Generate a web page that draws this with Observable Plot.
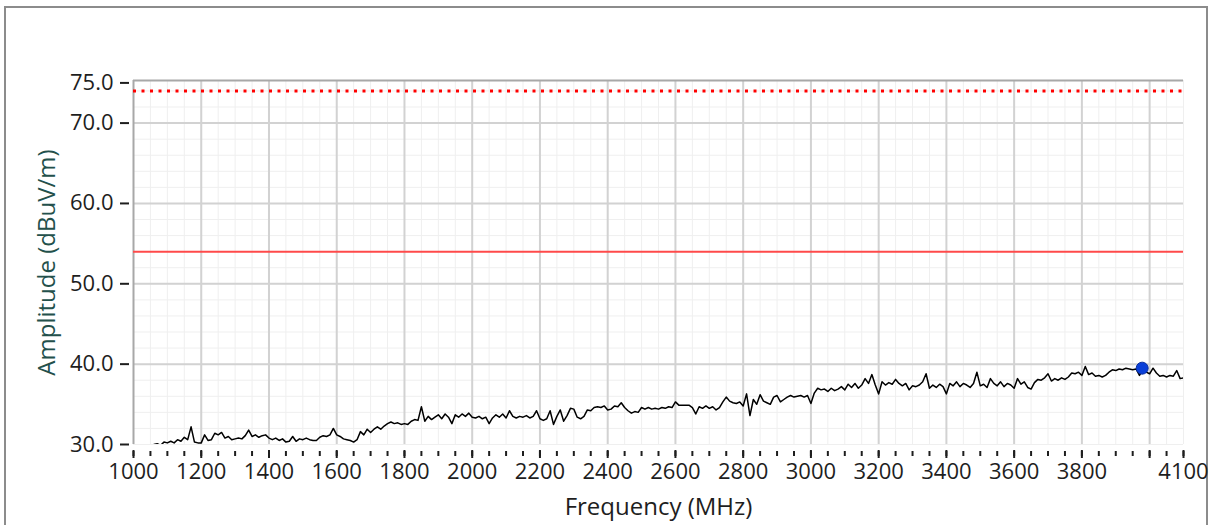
<!DOCTYPE html>
<html>
<head>
<meta charset="utf-8">
<script src="https://cdn.jsdelivr.net/npm/d3@7"></script>
<script src="https://cdn.jsdelivr.net/npm/@observablehq/plot@0.6"></script>
<style>
  html, body { margin: 0; padding: 0; background: #fff; }
  #wrap { position: relative; width: 1213px; height: 525px; overflow: hidden; }
  #panel { position: absolute; left: 4px; top: 6px; width: 1204px; height: 560px;
           border: 2px solid #8c8c8c; border-bottom: none; box-sizing: border-box; }
  #chart { position: absolute; left: 0; top: 0; }
</style>
</head>
<body>
<div id="wrap"><div id="panel"></div><div id="chart"></div></div>
<script>
// Radiated emission sweep, 10 MHz steps starting at 1050 MHz
const sweepStartMHz = 1050;
const sweepStepMHz = 10;
const amplitude = [
  29.7, 30.0, 30.1, 29.9, 30.3, 30.2, 30.4, 30.2, 30.6, 30.4,
  30.9, 30.6, 32.2, 30.3, 30.2, 30.2, 31.2, 30.5, 30.6, 31.4,
  31.2, 31.5, 30.8, 31.0, 30.6, 30.7, 30.8, 30.7, 31.1, 31.8,
  31.0, 31.2, 30.9, 31.1, 31.2, 30.8, 30.6, 30.8, 30.5, 30.7,
  30.3, 30.4, 31.0, 30.4, 30.7, 30.6, 30.8, 30.6, 30.5, 30.5,
  30.9, 31.1, 31.0, 31.2, 32.0, 31.2, 31.0, 30.7, 30.6, 30.5,
  30.3, 30.6, 31.6, 31.2, 31.9, 31.5, 31.9, 32.2, 31.9, 32.3,
  32.6, 32.8, 32.6, 32.7, 32.5, 32.6, 32.5, 32.9, 33.1, 33.0,
  34.7, 32.9, 33.5, 33.1, 33.4, 33.7, 33.2, 33.8, 33.4, 32.6,
  33.7, 33.4, 33.8, 33.5, 33.9, 33.4, 33.3, 33.5, 33.2, 33.4,
  32.6, 33.3, 33.7, 33.4, 33.8, 33.3, 34.2, 33.5, 33.3, 33.5,
  33.4, 33.6, 33.3, 33.5, 34.2, 33.2, 33.0, 33.2, 34.2, 32.5,
  33.5, 34.3, 32.9, 33.6, 34.5, 34.4, 33.4, 33.2, 33.5, 34.3,
  34.2, 34.6, 34.7, 34.6, 34.8, 34.3, 34.4, 34.8, 34.7, 35.2,
  34.6, 34.2, 33.9, 34.1, 34.0, 34.6, 34.4, 34.6, 34.4, 34.5,
  34.4, 34.6, 34.5, 34.7, 34.6, 35.3, 34.9, 34.9, 34.9, 34.9,
  34.6, 33.8, 34.7, 34.5, 34.8, 34.5, 34.7, 34.3, 34.6, 35.3,
  35.9, 35.4, 35.2, 35.1, 35.3, 34.8, 36.3, 33.6, 35.6, 35.0,
  36.2, 35.4, 35.2, 35.0, 35.9, 36.1, 35.3, 35.6, 35.9, 36.1,
  35.9, 36.0, 36.1, 35.9, 36.1, 35.1, 36.4, 37.0, 36.8, 36.9,
  36.6, 37.0, 36.7, 36.9, 37.2, 36.8, 37.5, 37.1, 37.6, 37.0,
  37.4, 38.2, 37.6, 38.7, 37.4, 36.3, 37.8, 37.4, 37.7, 37.5,
  38.1, 37.6, 37.3, 37.6, 36.8, 37.3, 37.2, 37.4, 37.8, 38.8,
  37.0, 37.4, 37.1, 37.5, 37.2, 36.3, 37.6, 37.3, 37.8, 37.2,
  37.6, 37.4, 37.1, 37.6, 39.0, 37.3, 37.5, 37.1, 38.2, 37.6,
  37.3, 37.8, 37.2, 37.6, 37.4, 37.0, 38.2, 37.5, 37.8, 37.1,
  36.9, 37.7, 38.1, 38.0, 38.3, 38.8, 37.9, 38.2, 38.0, 38.3,
  38.1, 38.4, 38.9, 38.8, 39.0, 38.6, 39.7, 38.7, 38.9, 38.5,
  38.6, 38.4, 38.6, 39.0, 39.3, 39.2, 39.4, 39.3, 39.5, 39.4,
  39.3, 39.4, 38.6, 39.3, 39.0, 38.8, 39.5, 38.9, 38.5, 38.6,
  38.4, 38.6, 38.5, 39.2, 38.2, 38.3
];

// Limit lines (dBuV/m)
const peakLimit = [74];
const averageLimit = [54];

// Marker
const markerFreq = [3978];
const markerAmp = [39.5];

// Axis ticks and labels
const xMajorTicks = [1000, 1200, 1400, 1600, 1800, 2000, 2200, 2400, 2600, 2800, 3000, 3200, 3400, 3600, 3800, 4000, 4100];
const xTickLabels = [1000, 1200, 1400, 1600, 1800, 2000, 2200, 2400, 2600, 2800, 3000, 3200, 3400, 3600, 3800, 4100];
const xGridMajor = [1200, 1400, 1600, 1800, 2000, 2200, 2400, 2600, 2800, 3000, 3200, 3400, 3600, 3800, 4000];
const yTicks = [30, 40, 50, 60, 70, 75];
const yGridMajor = [40, 50, 60, 70];

const xMinor = d3.range(1000, 4101, 50);
const yMinor = d3.range(30, 75.1, 2);

const trace = amplitude.map((a, i) => ({freq: sweepStartMHz + i * sweepStepMHz, amp: a}));
const marker = markerFreq.map((f, i) => ({freq: f, amp: markerAmp[i]}));

const ink = "#1e1e1e";

const chart = Plot.plot({
  width: 1213,
  height: 525,
  marginLeft: 133,
  marginRight: 30,
  marginTop: 80,
  marginBottom: 81,
  style: {fontFamily: "'Open Sans', sans-serif", fontSize: "22px", color: ink, background: "transparent"},
  x: {domain: [1000, 4100]},
  y: {domain: [30, 75.3]},
  marks: [
    Plot.gridX(xMinor, {stroke: "#efefef", strokeOpacity: 1, strokeWidth: 1}),
    Plot.gridY(yMinor, {stroke: "#efefef", strokeOpacity: 1, strokeWidth: 1}),
    Plot.gridX(xGridMajor, {stroke: "#d2d2d2", strokeOpacity: 1, strokeWidth: 2}),
    Plot.gridY(yGridMajor, {stroke: "#d2d2d2", strokeOpacity: 1, strokeWidth: 2}),
    Plot.ruleX([1000], {stroke: "#a8a8a8", strokeWidth: 2}),
    Plot.ruleY([75.3], {stroke: "#a8a8a8", strokeWidth: 2}),
    Plot.ruleY(averageLimit, {stroke: "#ff4a4a", strokeWidth: 2}),
    Plot.ruleY(peakLimit, {stroke: "#ff0000", strokeWidth: 3, strokeDasharray: "3,5.5"}),
    Plot.line(trace, {x: "freq", y: "amp", stroke: "#000", strokeWidth: 1.5, clip: true}),
    Plot.dot(marker, {x: "freq", y: "amp", r: 6, fill: "#0a3fd8", stroke: "#0a2fa0", strokeWidth: 1}),
    Plot.axisY(yTicks, {tickSize: 9, dx: -4, tickPadding: 7, tickFormat: d3.format(".1f"),
      stroke: ink, strokeWidth: 2, fill: ink, fontSize: 22, label: null}),
    Plot.axisX(xMinor, {tickSize: 5, dy: 7, stroke: ink, strokeWidth: 2, tickFormat: () => "", label: null}),
    Plot.axisX(xMajorTicks, {tickSize: 8, dy: 6, tickPadding: 5, stroke: ink, strokeWidth: 2, fill: ink, fontSize: 22,
      tickFormat: d => xTickLabels.includes(d) ? String(d) : "", label: null}),
    Plot.text(["Frequency (MHz)"], {frameAnchor: "bottom", dy: 63, fill: ink, fontSize: 24,
      textAnchor: "middle", lineAnchor: "middle"}),
    Plot.text(["Amplitude (dBuV/m)"], {frameAnchor: "left", dx: -86, rotate: -90, fill: "#23504b", fontSize: 24,
      textAnchor: "middle", lineAnchor: "middle"})
  ]
});

document.getElementById("chart").appendChild(chart);
</script>
</body>
</html>
